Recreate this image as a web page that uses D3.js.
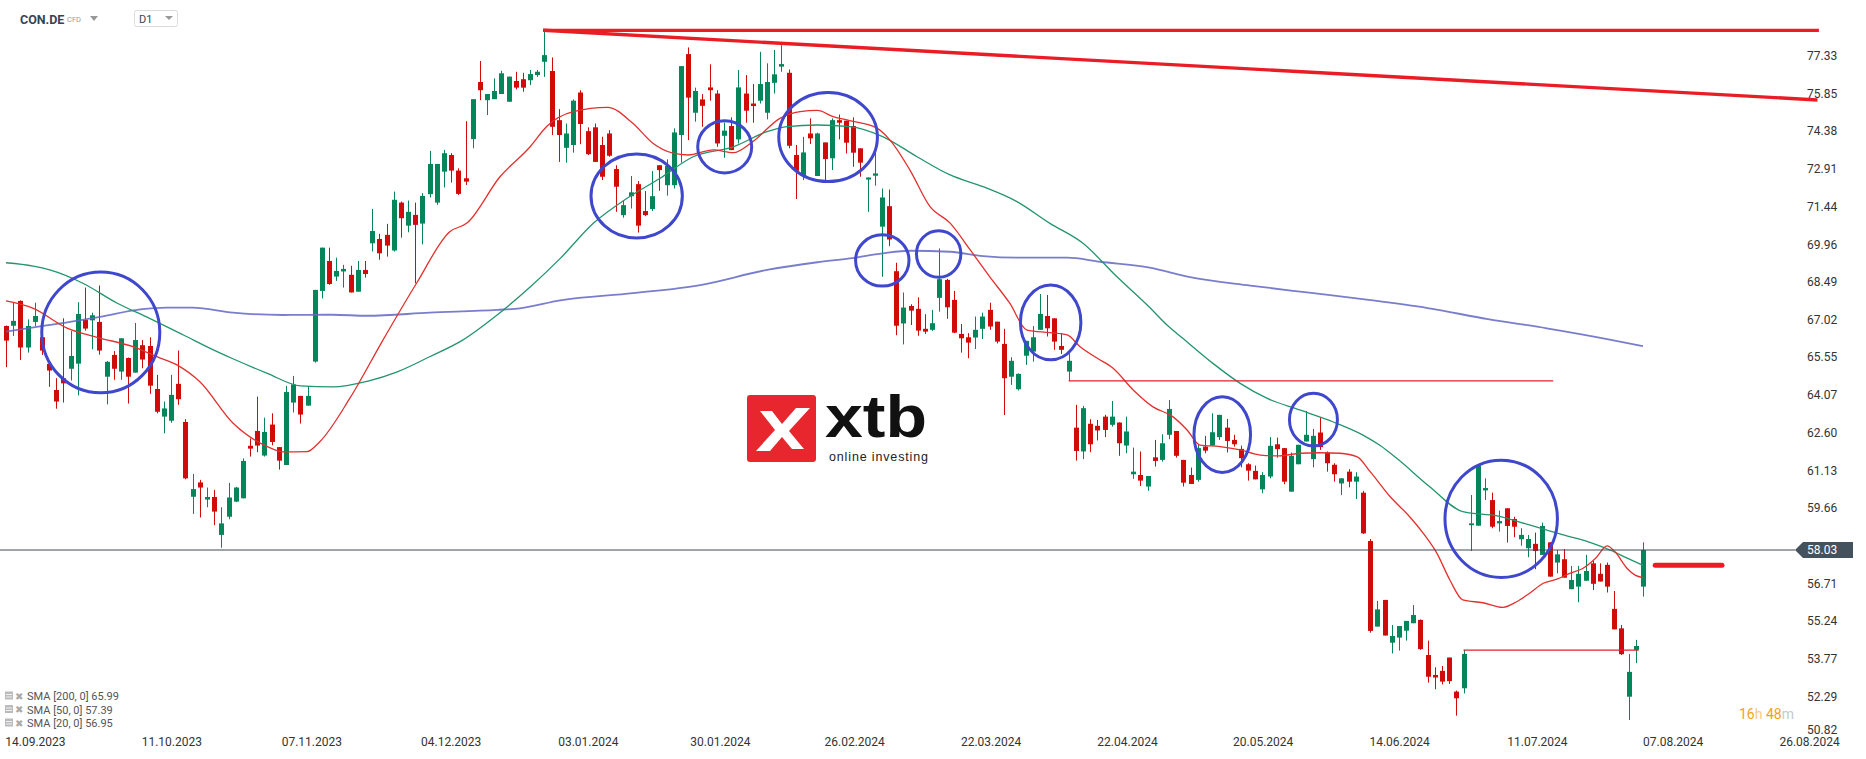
<!DOCTYPE html>
<html><head><meta charset="utf-8">
<script src="https://cdn.jsdelivr.net/npm/d3@7"></script>
<style>
html,body{margin:0;padding:0;background:#fff;overflow:hidden;}
svg{display:block;font-family:Roboto,"Noto Sans",sans-serif;}
</style></head><body>
<svg id="chart" width="1866" height="759"></svg>
<script>
// ---------- DATA ----------
const openVals = [
66.78,66.79,67.76,65.94,66.94,66.34,65.30,64.28,64.74,65.11,
65.31,67.02,67.00,66.94,64.80,65.65,65.00,65.53,64.96,66.03,
66.00,64.32,63.24,63.08,64.52,63.03,60.11,60.67,60.00,60.10,
58.62,59.33,59.92,60.05,62.10,62.68,61.72,62.93,62.05,61.35,
63.79,64.05,63.67,65.39,68.15,69.32,68.71,68.91,68.78,68.12,
68.97,70.01,70.18,70.34,69.73,71.60,70.70,71.12,70.78,71.93,
71.60,72.81,73.46,72.85,72.55,74.08,76.31,75.60,75.64,75.84,
75.54,76.35,76.42,76.38,76.58,77.10,76.74,74.82,73.74,73.85,
75.90,74.39,74.54,73.85,74.30,72.91,71.11,71.85,72.32,71.27,
71.35,73.06,72.28,72.28,74.24,77.40,75.11,75.63,76.10,75.86,
74.21,74.59,74.07,75.86,75.47,75.58,75.11,76.28,76.91,76.67,
73.46,72.65,74.30,72.64,73.95,73.33,74.82,74.80,74.59,73.72,
72.50,72.65,70.66,71.46,68.92,66.88,67.56,67.45,66.67,66.63,
67.88,68.58,67.80,66.47,66.34,66.33,66.67,67.41,66.95,66.08,
64.80,64.31,65.62,65.78,66.63,67.17,67.08,66.00,65.00,62.81,
61.88,62.96,62.88,63.24,62.92,63.01,62.11,60.99,60.96,60.51,
61.65,61.55,62.53,62.68,61.55,60.96,60.77,62.07,62.11,62.44,
62.81,62.33,61.98,61.38,61.12,60.40,60.90,62.16,62.01,60.31,
61.38,62.27,61.58,62.62,61.84,61.36,60.63,61.09,60.70,60.27,
58.38,55.04,56.08,54.41,54.61,54.88,55.17,55.30,53.93,53.15,
53.31,53.83,52.50,52.63,59.00,58.98,60.36,59.98,59.07,59.66,
59.24,58.45,58.10,58.27,57.84,58.33,57.54,57.67,56.50,56.60,
56.83,57.51,57.10,57.45,55.73,54.97,52.30,54.13,56.60];
const highVals = [
66.80,67.69,67.78,67.04,67.69,66.40,65.32,64.74,67.08,66.59,
67.71,68.28,67.30,68.36,65.41,65.80,66.30,65.55,66.90,66.23,
66.34,64.87,63.83,64.87,65.82,63.14,61.00,60.77,60.47,60.38,
59.70,60.65,60.50,61.61,62.39,64.02,63.20,63.37,62.05,64.44,
64.83,64.05,64.44,68.19,69.84,69.84,69.45,69.17,69.13,69.32,
69.32,71.35,70.38,70.77,72.03,71.64,71.68,71.60,71.97,73.62,
73.11,73.66,73.53,72.94,74.78,75.64,77.13,75.84,76.45,76.75,
76.52,76.71,76.67,76.78,76.78,78.27,77.27,75.25,74.69,75.63,
75.99,74.54,74.69,74.17,74.43,73.06,71.66,72.64,72.44,72.05,
72.83,73.06,73.29,74.50,76.93,77.66,76.09,75.84,77.00,75.99,
74.73,74.93,76.78,76.58,76.23,77.49,77.04,77.56,77.75,76.80,
73.85,74.17,74.89,74.33,73.95,74.89,75.04,74.80,74.93,73.72,
72.58,73.59,72.15,72.11,69.25,68.09,67.63,67.90,67.24,67.41,
69.81,68.62,68.15,66.86,66.50,67.15,67.30,67.69,66.95,66.67,
65.56,64.93,66.20,66.78,68.03,67.99,67.08,66.50,65.72,63.70,
63.66,63.14,63.11,63.31,63.85,63.01,63.24,62.03,61.88,60.92,
62.33,62.55,63.89,62.68,61.55,61.25,62.14,62.49,63.37,63.31,
63.15,62.53,62.11,61.42,61.33,61.07,62.44,62.42,62.01,61.84,
62.14,63.46,62.76,63.22,61.88,61.42,60.83,61.19,61.07,60.34,
58.46,56.04,56.08,55.10,55.06,55.26,55.88,55.32,54.49,53.45,
53.50,53.83,52.54,54.13,60.18,61.33,60.83,60.27,59.57,59.66,
59.33,58.88,58.62,58.71,59.10,58.33,58.03,58.07,57.41,57.41,
57.84,57.60,57.51,57.54,56.43,55.10,53.97,54.52,58.33];
const lowVals = [
65.17,66.39,65.45,65.74,66.78,65.65,64.41,63.55,63.79,64.65,
64.07,66.60,65.87,65.66,63.72,64.68,64.68,63.75,64.96,65.13,
64.13,63.37,62.59,63.00,63.70,60.79,59.44,59.30,59.70,59.00,
58.12,59.23,59.90,60.05,61.68,61.85,61.68,62.12,61.17,61.35,
63.40,62.97,63.67,65.35,67.86,68.39,68.54,68.28,68.09,68.12,
68.67,69.69,69.37,69.49,69.69,70.23,70.44,68.45,69.97,71.80,
71.51,72.19,72.38,71.90,72.29,73.72,75.60,75.02,75.64,75.84,
75.54,76.02,75.93,76.19,76.51,76.51,74.24,73.19,73.16,73.55,
73.88,73.46,73.19,72.48,73.39,71.24,71.01,71.37,70.43,71.07,
71.27,72.06,71.87,72.15,73.16,74.04,74.76,74.56,75.58,73.78,
73.35,73.65,73.91,74.72,74.72,75.47,74.85,75.86,76.71,73.72,
71.74,72.48,73.89,72.64,72.41,72.87,74.07,73.52,73.00,72.61,
71.24,72.26,68.70,69.90,66.42,66.06,66.82,66.40,66.47,66.59,
67.34,67.06,66.50,65.74,65.52,65.88,66.27,66.63,66.10,63.30,
64.48,64.26,65.26,65.39,66.63,66.37,65.85,65.69,64.64,61.52,
61.58,61.85,62.31,62.44,62.85,61.71,61.81,60.81,60.53,60.34,
61.29,61.48,62.36,61.64,60.51,60.61,60.70,61.81,62.11,62.33,
61.84,62.07,61.26,60.74,60.79,60.25,60.83,61.64,60.60,60.31,
61.38,62.27,61.26,61.94,61.09,60.70,60.18,60.48,60.02,58.66,
54.80,55.04,54.69,53.99,54.10,54.49,55.17,54.13,52.85,52.59,
52.78,52.80,51.56,52.43,57.99,58.98,59.98,58.88,58.75,58.32,
58.53,58.20,57.75,57.28,57.84,56.99,57.12,56.95,56.50,55.99,
56.83,56.47,56.80,56.37,54.93,53.93,51.39,53.61,56.21];
const closeVals = [
66.21,66.98,65.94,66.78,67.17,65.82,65.04,63.83,64.54,65.61,
67.25,66.68,67.20,65.82,65.38,65.11,66.30,64.80,66.23,65.47,
64.45,63.43,63.56,64.09,63.92,60.83,60.41,60.47,60.10,59.53,
59.07,60.08,60.47,61.51,61.99,62.11,62.64,62.25,61.52,64.20,
64.50,63.32,64.05,68.19,69.84,68.42,68.93,69.01,68.09,68.97,
68.81,70.49,69.62,69.92,71.71,70.99,71.24,70.73,71.86,73.11,
73.11,73.53,72.85,71.94,72.42,75.64,75.99,75.84,75.96,76.65,
76.52,76.09,76.09,76.62,76.71,77.36,74.56,74.24,74.30,75.58,
74.67,73.49,73.19,72.61,73.43,72.22,71.50,72.00,70.70,71.11,
71.85,72.87,73.04,74.34,76.93,75.70,75.96,75.38,75.99,73.91,
74.41,73.65,76.10,75.19,75.37,76.23,76.31,76.61,77.01,73.82,
72.84,73.56,74.11,74.30,73.30,74.82,74.72,73.94,73.55,73.16,
72.58,72.74,71.80,70.16,66.79,67.50,67.38,66.60,66.56,66.89,
68.61,67.51,66.52,66.30,66.13,66.63,67.15,66.76,66.17,64.74,
65.42,64.91,66.20,66.34,67.25,66.69,66.17,65.85,65.42,61.90,
63.57,62.16,62.70,62.72,63.24,62.20,62.66,61.09,60.74,60.92,
61.51,62.20,63.54,61.71,60.66,60.61,62.01,61.91,62.63,63.31,
62.29,62.16,61.62,61.13,60.79,60.96,62.10,61.97,60.70,61.71,
62.14,62.53,62.49,62.05,61.42,60.99,60.83,60.70,60.90,58.68,
54.87,55.71,54.69,54.67,55.06,55.26,55.49,54.16,53.08,53.05,
52.89,52.91,52.24,53.97,59.07,61.33,60.45,58.94,59.16,58.97,
58.94,58.62,58.46,57.99,58.97,56.99,57.86,56.95,56.86,57.10,
57.21,56.71,56.80,56.60,54.93,53.96,53.27,54.28,58.03];

// moving averages: [bar index, value]
const sma20 = [[0,67.76],[3.8,67.47],[8.5,66.7],[13.1,66.31],[17.7,65.97],[21,65.58],[23.8,65.26],[27,64.6],[31.6,62.99],[36.4,62.07],[38.6,61.86],[41.9,61.87],[43.7,62.26],[47.9,63.96],[52.5,66.23],[57.2,68.46],[61.8,70.46],[64.2,70.8],[68.8,72.61],[73,73.78],[75.3,74.57],[79,75.15],[83.8,75.32],[87.3,74.7],[90.1,73.92],[92.9,73.53],[95,73.46],[98.5,73.66],[101.3,73.55],[104,73.98],[107.8,74.89],[110.6,75.15],[113,75.2],[115.2,74.96],[117.5,74.8],[121.3,74.51],[123.1,74.05],[125.9,72.87],[128.7,71.44],[131.5,70.8],[134.3,69.75],[137,68.71],[139.8,67.67],[142.2,66.62],[145.4,66.52],[147.8,66.43],[149.6,65.97],[152,65.52],[154.2,65.13],[157,64.28],[159.7,63.63],[162.5,63.24],[164.5,62.72],[166.3,62.13],[169.1,62.07],[171.9,61.94],[174.7,61.74],[177.4,61.71],[180.2,61.81],[183,61.83],[185.8,61.81],[188.2,61.67],[190,61.09],[192.8,60.11],[195.5,59.33],[197.4,58.68],[199.3,57.9],[201.1,56.86],[202.9,56.08],[205.7,55.97],[208.5,55.79],[210.4,56.01],[212.2,56.34],[214.1,56.73],[216,56.89],[217.8,57.12],[219.6,57.31],[221.4,57.71],[223,58.19],[224.1,57.96],[225.8,57.31],[226.9,57.05],[228,56.95]];
const sma50 = [[0,69.25],[3.8,69.12],[6.1,68.97],[10.7,68.45],[15.5,67.67],[20,67.08],[24.7,66.43],[29.4,65.78],[31.6,65.5],[36.4,64.93],[41,64.44],[45.5,64.4],[50.3,64.62],[54.5,64.99],[59,65.58],[63.6,66.23],[68.4,67.21],[73,68.3],[77.2,69.42],[81.8,70.79],[86.5,71.77],[91.1,72.55],[95.7,73.39],[101.3,73.78],[106,74.37],[108.8,74.57],[113,74.63],[117.5,74.57],[122.1,74.18],[126.9,73.39],[131.5,72.68],[136.1,72.22],[140.8,71.64],[145.4,70.79],[150,70.01],[154.7,68.71],[159.3,67.5],[161.7,66.82],[163.9,66.3],[168.1,65.32],[171.9,64.54],[175.6,63.96],[180.2,63.5],[184.8,63.04],[189,62.52],[191.4,62.11],[193.7,61.61],[198.3,60.5],[202.9,59.53],[207.7,59.36],[212.3,59.0],[216.9,58.62],[221,58.29],[223.4,58.03],[225.8,57.71],[228,57.43]];
const sma200 = [[0,66.56],[6.1,66.82],[13.1,67.14],[18.7,67.43],[22.4,67.5],[26,67.5],[31.6,67.3],[38.6,67.21],[45.5,67.22],[50.3,67.18],[59,67.3],[68.4,67.41],[71.6,67.47],[77.2,67.78],[87.3,68.06],[96.7,68.38],[106,68.97],[113,69.27],[117.5,69.42],[122.1,69.62],[125.9,69.72],[131.5,69.68],[136.1,69.51],[140.8,69.45],[147.8,69.45],[152.4,69.29],[159.3,69.06],[164.9,68.69],[173.3,68.36],[181.5,68.08],[189.8,67.8],[198,67.48],[206.4,67.05],[214.6,66.69],[223,66.27],[228,65.99]];

const yTickVals = [77.33,75.85,74.38,72.91,71.44,69.96,68.49,67.02,65.55,64.07,62.60,61.13,59.66,56.71,55.24,53.77,52.29,50.82];
const xTickLabels = ["14.09.2023","11.10.2023","07.11.2023","04.12.2023","03.01.2024","30.01.2024","26.02.2024","22.03.2024","22.04.2024","20.05.2024","14.06.2024","11.07.2024","07.08.2024","26.08.2024"];
const xTickIdx = [4.1,23.1,42.6,62,81.1,99.5,118.2,137.2,156.2,175.1,194.1,213.3,232.2,251.2];

const lastPrice = 58.03;
// drawn lines: [startIdx, startPrice, endIdx, endPrice]
const trendTop = [74.8, 78.33, 252.5, 78.33];
const trendSlope = [74.8, 78.33, 252.3, 75.61];
const supportThin = [[148, 64.64, 215.5, 64.64],[203, 54.12, 227.4, 54.12]];
const targetLine = [229.7, 57.43, 239, 57.43];
// highlight ellipses: [centerIdx, centerPrice, radiusIdx, radiusPrice]
const circles = [[13.2,66.53,8.22,2.36],[87.84,71.86,6.36,1.64],[100.1,73.78,3.76,1.02],[114.5,74.16,6.87,1.74],[122.05,69.34,3.72,1.0],[129.9,69.59,3.09,0.91],[145.5,66.92,4.21,1.46],[169.4,62.54,3.94,1.48],[182.1,63.12,3.34,1.03],[208.25,59.25,7.83,2.29]];
const legendRows = ["SMA [200, 0] 65.99","SMA [50, 0] 57.39","SMA [20, 0] 56.95"];

// ---------- DRAW ----------
const svg = d3.select("#chart");
const x = d3.scaleLinear().domain([0, 228]).range([6, 1643]);
const y = d3.scaleLinear().domain([50.82, 77.33]).range([734.6, 55.9]);
const GREEN = "#05855a", RED = "#d10a0a", LINE_RED = "#ea1d26";

// logo (background watermark)
const logo = svg.append("g");
logo.append("rect").attr("x",747).attr("y",395).attr("width",69).attr("height",67).attr("rx",3).attr("fill","#e8262d");
logo.append("path").attr("fill","#fff")
  .attr("d","M760,411 L772,411 L782,424 L796,408 L810,408 L789,431 L804,449 L792,449 L782,437 L770,451 L756,451 L775,430 Z");
logo.append("text").attr("x",825).attr("y",437).attr("font-family","'Liberation Sans',Arial,sans-serif")
  .attr("font-weight","bold").attr("font-size",60).attr("fill","#111")
  .attr("textLength",102).attr("lengthAdjust","spacingAndGlyphs").text("xtb");
logo.append("text").attr("x",829).attr("y",461).attr("font-family","'Liberation Sans',Arial,sans-serif")
  .attr("font-size",12.5).attr("fill","#222").attr("textLength",99).text("online investing");

// candles
const candles = openVals.map((o,i)=>({i,o,h:highVals[i],l:lowVals[i],c:closeVals[i]}));
const cg = svg.append("g");
cg.selectAll("line").data(candles).join("line")
  .attr("x1",d=>Math.round(x(d.i))+0.5).attr("x2",d=>Math.round(x(d.i))+0.5)
  .attr("y1",d=>y(d.h)).attr("y2",d=>y(d.l))
  .attr("stroke",d=>d.c>=d.o?GREEN:RED).attr("stroke-width",1);
cg.selectAll("rect").data(candles).join("rect")
  .attr("x",d=>Math.round(x(d.i))-2).attr("width",5)
  .attr("y",d=>y(Math.max(d.o,d.c)))
  .attr("height",d=>Math.max(1.6,Math.abs(y(d.o)-y(d.c))))
  .attr("fill",d=>d.c>=d.o?GREEN:RED);

// moving averages
const lineGen = d3.line().x(d=>x(d[0])).y(d=>y(d[1])).curve(d3.curveMonotoneX);
svg.append("path").datum(sma200).attr("d",lineGen).attr("fill","none").attr("stroke","#6166c2").attr("stroke-opacity",0.85).attr("stroke-width",1.8);
svg.append("path").datum(sma50).attr("d",lineGen).attr("fill","none").attr("stroke","#23956b").attr("stroke-width",1.3);
svg.append("path").datum(sma20).attr("d",lineGen).attr("fill","none").attr("stroke","#e2302e").attr("stroke-width",1.3);

// current price line
svg.append("line").attr("x1",0).attr("x2",1795).attr("y1",y(lastPrice)).attr("y2",y(lastPrice))
  .attr("stroke","#3d4b57").attr("stroke-width",1);

// drawn trend lines
function seg(s, w, col, cap){
  svg.append("line").attr("x1",x(s[0])).attr("y1",y(s[1])).attr("x2",x(s[2])).attr("y2",y(s[3]))
    .attr("stroke",col).attr("stroke-width",w).attr("stroke-linecap",cap||"butt");
}
seg(trendTop,3.2,LINE_RED);
seg(trendSlope,3.4,LINE_RED);
supportThin.forEach(s=>seg(s,1.2,LINE_RED));
seg(targetLine,5,LINE_RED,"round");

// circles
svg.append("g").selectAll("ellipse").data(circles).join("ellipse")
  .attr("cx",d=>x(d[0])).attr("cy",d=>y(d[1]))
  .attr("rx",d=>x(d[0]+d[2])-x(d[0])).attr("ry",d=>y(d[1]-d[3])-y(d[1]))
  .attr("fill","none").attr("stroke","#3f47cc").attr("stroke-width",3);

// y axis labels
svg.append("g").selectAll("text").data(yTickVals).join("text")
  .attr("x",1807).attr("y",d=>Math.min(y(d),730)+4)
  .attr("font-size",12).attr("fill","#333").text(d=>d.toFixed(2));

// price tag
const yc = y(lastPrice);
svg.append("path").attr("d",`M1795,${yc} L1803,${yc-8} L1853,${yc-8} L1853,${yc+8} L1803,${yc+8} Z`).attr("fill","#44525e");
svg.append("text").attr("x",1807).attr("y",yc+4).attr("font-size",12).attr("fill","#fff").text(lastPrice.toFixed(2));

// x axis labels
svg.append("g").selectAll("text").data(xTickLabels).join("text")
  .attr("x",(d,i)=>x(xTickIdx[i])).attr("y",746).attr("text-anchor","middle")
  .attr("font-size",12).attr("fill","#333").text(d=>d);

// header
svg.append("text").attr("x",20).attr("y",24).attr("font-size",12.5).attr("font-weight","bold").attr("fill","#37444f").text("CON.DE");
svg.append("text").attr("x",67).attr("y",22).attr("font-size",7.5).attr("fill","#999").text("CFD");
svg.append("path").attr("d","M90,16 L98,16 L94,21 Z").attr("fill","#999");
svg.append("rect").attr("x",134.5).attr("y",10.5).attr("width",43).attr("height",16).attr("rx",2).attr("fill","#fff").attr("stroke","#dcdcdc");
svg.append("text").attr("x",139).attr("y",23).attr("font-size",11).attr("fill","#37444f").text("D1");
svg.append("path").attr("d","M165,16 L173,16 L169,20 Z").attr("fill","#999");

// legend
const lg = svg.append("g");
legendRows.forEach((t,k)=>{
  const yy = 696 + k*13.5;
  lg.append("rect").attr("x",5).attr("y",yy-4.5).attr("width",8).attr("height",8).attr("fill","#bbb");
  lg.append("line").attr("x1",6).attr("x2",12).attr("y1",yy-1.5).attr("y2",yy-1.5).attr("stroke","#fff").attr("stroke-width",0.8);
  lg.append("line").attr("x1",6).attr("x2",12).attr("y1",yy+1).attr("y2",yy+1).attr("stroke","#fff").attr("stroke-width",0.8);
  lg.append("text").attr("x",15).attr("y",yy+3.5).attr("font-size",10).attr("fill","#aaa").text("✖");
  lg.append("text").attr("x",27).attr("y",yy+4).attr("font-size",11).attr("fill","#555").text(t);
});

// countdown
const cd = svg.append("text").attr("x",1739).attr("y",719).attr("font-size",14);
cd.append("tspan").attr("fill","#f5a01a").text("16");
cd.append("tspan").attr("fill","#f7c98a").text("h ");
cd.append("tspan").attr("fill","#f5a01a").text("48");
cd.append("tspan").attr("fill","#c8c8c8").text("m");
</script>
</body></html>
